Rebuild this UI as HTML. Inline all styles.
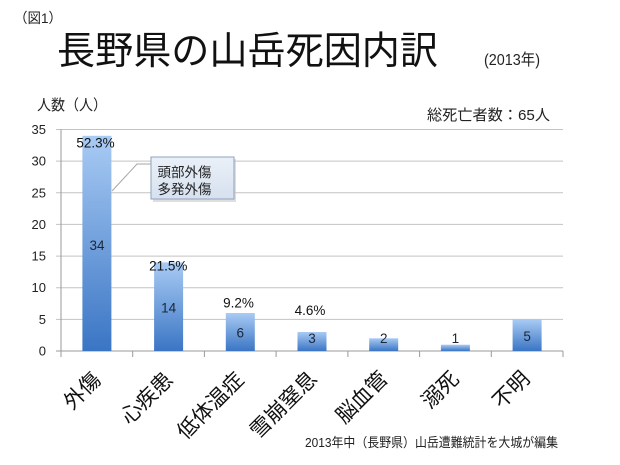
<!DOCTYPE html>
<html>
<head>
<meta charset="utf-8">
<style>
  html,body{margin:0;padding:0;background:#fff;}
  svg{display:block;}
  text{font-family:"Liberation Sans","Noto Sans CJK JP",sans-serif;}
</style>
</head>
<body>
<svg width="620" height="465" viewBox="0 0 620 465" xmlns="http://www.w3.org/2000/svg">
  <defs>
    <linearGradient id="bar" x1="0" y1="0" x2="0" y2="1">
      <stop offset="0" stop-color="#a9cbf4"/>
      <stop offset="1" stop-color="#3a75c4"/>
    </linearGradient>
    <linearGradient id="box" x1="0" y1="0" x2="0" y2="1">
      <stop offset="0" stop-color="#eaf0f8"/>
      <stop offset="1" stop-color="#d6e1ef"/>
    </linearGradient>
  </defs>
  <rect width="620" height="465" fill="#fff"/>

  <!-- Headings -->
  <text x="14" y="23" font-size="14" fill="#222" textLength="48" lengthAdjust="spacingAndGlyphs">（図1）</text>
  <text x="57" y="64" font-size="38.5" fill="#111" textLength="381" lengthAdjust="spacingAndGlyphs">長野県の山岳死因内訳</text>
  <text x="484" y="65" font-size="16" fill="#222" textLength="56" lengthAdjust="spacingAndGlyphs">(2013年)</text>
  <text x="37" y="110" font-size="15" fill="#222" textLength="70" lengthAdjust="spacingAndGlyphs">人数（人）</text>
  <text x="427" y="120" font-size="15" fill="#222" textLength="123" lengthAdjust="spacingAndGlyphs">総死亡者数：65人</text>

  <!-- Gridlines -->
  <g stroke="#c3c3c3" stroke-width="1">
    <line x1="56" y1="129.5" x2="563" y2="129.5"/>
    <line x1="56" y1="161.1" x2="563" y2="161.1"/>
    <line x1="56" y1="192.8" x2="563" y2="192.8"/>
    <line x1="56" y1="224.4" x2="563" y2="224.4"/>
    <line x1="56" y1="256.1" x2="563" y2="256.1"/>
    <line x1="56" y1="287.7" x2="563" y2="287.7"/>
    <line x1="56" y1="319.4" x2="563" y2="319.4"/>
  </g>
  <!-- Axes -->
  <g stroke="#9a9a9a" stroke-width="1">
    <line x1="61" y1="129.5" x2="61" y2="351"/>
    <line x1="56" y1="351" x2="563" y2="351"/>
    <line x1="61" y1="351" x2="61" y2="357"/>
    <line x1="132.7" y1="351" x2="132.7" y2="357"/>
    <line x1="204.4" y1="351" x2="204.4" y2="357"/>
    <line x1="276.1" y1="351" x2="276.1" y2="357"/>
    <line x1="347.9" y1="351" x2="347.9" y2="357"/>
    <line x1="419.6" y1="351" x2="419.6" y2="357"/>
    <line x1="491.3" y1="351" x2="491.3" y2="357"/>
    <line x1="563" y1="351" x2="563" y2="357"/>
  </g>

  <!-- Y tick labels -->
  <g font-size="13" fill="#222" text-anchor="end">
    <text x="46" y="134">35</text>
    <text x="46" y="165.6">30</text>
    <text x="46" y="197.3">25</text>
    <text x="46" y="228.9">20</text>
    <text x="46" y="260.6">15</text>
    <text x="46" y="292.2">10</text>
    <text x="46" y="323.9">5</text>
    <text x="46" y="355.5">0</text>
  </g>

  <!-- Bars -->
  <g fill="url(#bar)">
    <rect x="82.4" y="135.8" width="29" height="215.2"/>
    <rect x="154.1" y="262.4" width="29" height="88.6"/>
    <rect x="225.8" y="313" width="29" height="38"/>
    <rect x="297.5" y="332" width="29" height="19"/>
    <rect x="369.2" y="338.3" width="29" height="12.7"/>
    <rect x="440.9" y="344.7" width="29" height="6.3"/>
    <rect x="512.6" y="319.4" width="29" height="31.6"/>
  </g>

  <!-- Value labels -->
  <g font-size="13.5" fill="#1c2636" text-anchor="middle">
    <text x="97" y="250">34</text>
    <text x="168.6" y="312.5">14</text>
    <text x="240.3" y="337.5">6</text>
    <text x="312" y="343">3</text>
    <text x="383.7" y="343">2</text>
    <text x="455.4" y="343">1</text>
    <text x="527.1" y="341">5</text>
  </g>
  <!-- Percent labels -->
  <g font-size="13.5" fill="#111" text-anchor="middle">
    <text x="95.5" y="147.5">52.3%</text>
    <text x="168.3" y="270.5">21.5%</text>
    <text x="238.5" y="307.5">9.2%</text>
    <text x="310" y="315">4.6%</text>
  </g>

  <!-- Callout -->
  <polyline points="112,191 137,164 151,164" fill="none" stroke="#a6a6a6" stroke-width="1"/>
  <rect x="153" y="159" width="83" height="43" fill="#c8c8c8" opacity="0.6"/>
  <rect x="151" y="157" width="83" height="42" fill="url(#box)" stroke="#8fa3bd" stroke-width="1"/>
  <text x="157.5" y="177" font-size="13.5" fill="#222">頭部外傷</text>
  <text x="157.5" y="194" font-size="13.5" fill="#222">多発外傷</text>

  <!-- X category labels -->
  <g font-size="21" fill="#111" text-anchor="end">
    <text transform="translate(102,381) rotate(-45)">外傷</text>
    <text transform="translate(174,381) rotate(-45)">心疾患</text>
    <text transform="translate(245,381) rotate(-45)">低体温症</text>
    <text transform="translate(318,380) rotate(-45)">雪崩窒息</text>
    <text transform="translate(389,380) rotate(-45)">脳血管</text>
    <text transform="translate(460,380) rotate(-45)">溺死</text>
    <text transform="translate(531,380) rotate(-45)">不明</text>
  </g>

  <!-- Footer -->
  <text x="305" y="447" font-size="13" fill="#222" textLength="253" lengthAdjust="spacingAndGlyphs">2013年中（長野県）山岳遭難統計を大城が編集</text>
</svg>
</body>
</html>
